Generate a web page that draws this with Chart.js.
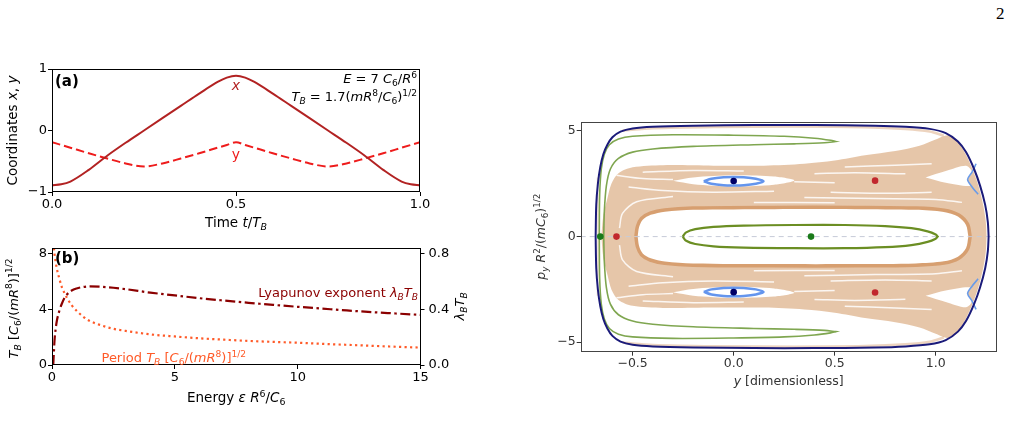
<!DOCTYPE html>
<html>
<head>
<meta charset="utf-8">
<script src="https://cdn.jsdelivr.net/npm/chart.js@4"></script>
<style>
  body { margin: 0; background: #fff; width: 1014px; height: 447px; overflow: hidden; position: relative; }
  canvas { position: absolute; }
  #page { position: absolute; left: 996px; top: 4px; font: 17px "Liberation Serif"; color: #000; }
</style>
</head>
<body>
<div id="page">2</div>
<canvas id="chartA" width="445" height="190" style="left:0;top:50px"></canvas>
<canvas id="chartB" width="480" height="180" style="left:0;top:236px"></canvas>
<canvas id="chartC" width="494" height="294" style="left:520px;top:108px"></canvas>
<script>
'use strict'
var FONT = '"DejaVu Sans"';

/*----- panel (a): coordinates over one period -----*/
var tA = [0, 0.025, 0.05, 0.1, 0.15, 0.2, 0.25, 0.3, 0.35, 0.4, 0.45, 0.475, 0.5,
          0.525, 0.55, 0.6, 0.65, 0.7, 0.75, 0.8, 0.85, 0.9, 0.95, 0.975, 1];
var xA = [-0.89, -0.875, -0.83, -0.64, -0.41, -0.2, 0, 0.2, 0.4, 0.6, 0.79, 0.86, 0.89,
          0.86, 0.79, 0.6, 0.4, 0.2, 0, -0.2, -0.41, -0.64, -0.83, -0.875, -0.89];
var yA = [-0.19, -0.235, -0.28, -0.37, -0.455, -0.535, -0.585, -0.535, -0.455, -0.37, -0.28, -0.235, -0.19,
          -0.235, -0.28, -0.37, -0.455, -0.535, -0.585, -0.535, -0.455, -0.37, -0.28, -0.235, -0.19];

/*----- panel (b): period and Lyapunov exponent vs energy -----*/
var epsT = [0.08, 0.1, 0.15, 0.2, 0.3, 0.4, 0.5, 0.6, 0.8, 1, 1.25, 1.5, 2, 2.5, 3, 4, 5, 6, 7, 8, 9, 10, 11, 12, 13, 14, 15];
var periodT = [8.4, 8.0, 7.4, 6.9, 6.2, 5.6, 5.2, 4.85, 4.3, 3.9, 3.5, 3.2, 2.85, 2.6, 2.45, 2.2, 2.05, 1.92, 1.82, 1.73, 1.66, 1.6, 1.52, 1.45, 1.38, 1.31, 1.25];
var epsL = [0.05, 0.08, 0.1, 0.15, 0.2, 0.3, 0.4, 0.5, 0.6, 0.8, 1, 1.25, 1.5, 2, 2.5, 3, 4, 5, 6, 7, 8, 9, 10, 11, 12, 13, 14, 15];
var lyapL = [0, 0.1, 0.17, 0.26, 0.32, 0.39, 0.44, 0.48, 0.505, 0.535, 0.55, 0.56, 0.565, 0.562, 0.555, 0.545, 0.52, 0.5, 0.48, 0.463, 0.447, 0.432, 0.418, 0.405, 0.392, 0.38, 0.37, 0.36];

/*----- right panel: Poincare section (upper halves, mirrored in p_y) -----*/
var outerTop = [[-0.683, 0], [-0.68, 1.5], [-0.672, 2.5], [-0.66, 3.3], [-0.645, 3.9], [-0.625, 4.35], [-0.6, 4.7],
  [-0.56, 4.97], [-0.5, 5.12], [-0.4, 5.2], [-0.2, 5.25], [0.1, 5.28], [0.4, 5.28], [0.7, 5.25], [0.85, 5.2],
  [0.97, 5.1], [1.05, 4.9], [1.11, 4.5], [1.15, 4.0], [1.19, 3.2], [1.22, 2.4], [1.245, 1.5], [1.258, 0.7], [1.262, 0]];
var greenOuterTop = [[-0.665, 0], [-0.663, 2], [-0.655, 3.2], [-0.64, 3.9], [-0.615, 4.35], [-0.57, 4.62], [-0.5, 4.75],
  [-0.3, 4.82], [0, 4.8], [0.25, 4.75], [0.4, 4.66], [0.48, 4.56], [0.505, 4.5]];
var greenInnerTop = [[0.505, 4.5], [0.45, 4.44], [0.3, 4.39], [0.1, 4.35], [-0.2, 4.27], [-0.4, 4.15], [-0.5, 4.0],
  [-0.57, 3.7], [-0.61, 3.2], [-0.63, 2.4], [-0.64, 1.2], [-0.643, 0]];
var centreTop = [[-0.252, 0], [-0.235, 0.2], [-0.19, 0.35], [-0.1, 0.46], [0.05, 0.52], [0.3, 0.55], [0.55, 0.55],
  [0.75, 0.5], [0.88, 0.4], [0.96, 0.25], [1.0, 0.1], [1.01, 0]];
var blueRing = [[-0.148, 2.62], [-0.11, 2.74], [-0.05, 2.81], [0, 2.82], [0.05, 2.81], [0.11, 2.74], [0.148, 2.62],
  [0.11, 2.5], [0.05, 2.43], [0, 2.42], [-0.05, 2.43], [-0.11, 2.5], [-0.148, 2.62]];
var cuspTop = [[1.2, 3.45], [1.18, 3.05], [1.158, 2.7], [1.18, 2.35], [1.21, 2.0]];
var seaTop = [[-0.655, 0], [-0.645, 1.0], [-0.625, 1.8], [-0.605, 2.5], [-0.57, 3.0], [-0.5, 3.28], [-0.35, 3.38],
  [-0.1, 3.36], [0.15, 3.36], [0.35, 3.45], [0.5, 3.6], [0.65, 3.85], [0.8, 4.05], [0.92, 4.3], [1.0, 4.6],
  [1.06, 4.8], [1.1, 4.6], [1.14, 4.05], [1.18, 3.25], [1.21, 2.45], [1.235, 1.5], [1.248, 0.7], [1.252, 0]];
var seaRimTop = [[-0.55, 5.02], [-0.4, 5.13], [-0.1, 5.19], [0.3, 5.21], [0.65, 5.18], [0.85, 5.1], [0.97, 4.98], [1.04, 4.78]];
var seaRimLeft = [[-0.674, -2.8], [-0.672, -1.5], [-0.671, 0], [-0.672, 1.5], [-0.674, 2.8]];
var holeTop = [[-0.475, 0], [-0.468, 0.45], [-0.45, 0.8], [-0.41, 1.03], [-0.34, 1.18], [-0.2, 1.27], [0.2, 1.3],
  [0.6, 1.3], [0.9, 1.27], [1.04, 1.17], [1.11, 0.95], [1.15, 0.55], [1.162, 0]];
var islandTop = [[-0.3, 2.64], [-0.2, 2.8], [0, 2.9], [0.2, 2.84], [0.3, 2.66], [0.2, 2.46], [0, 2.38], [-0.2, 2.48], [-0.3, 2.64]];
var cuspGapTop = [[0.95, 2.8], [1.05, 3.1], [1.15, 3.35], [1.18, 3.05], [1.158, 2.7], [1.17, 2.4], [1.05, 2.55], [0.95, 2.8]];
var streaksTop = [
  [[-0.45, 3.05], [-0.2, 3.13], [0.05, 3.1]],
  [[-0.52, 2.35], [-0.35, 2.18], [-0.1, 2.1], [0.2, 2.15]],
  [[0.35, 1.85], [0.7, 1.8], [1.0, 1.76], [1.13, 1.62]],
  [[0.4, 2.98], [0.6, 3.02], [0.85, 2.97]],
  [[-0.3, 1.9], [-0.48, 1.65], [-0.55, 1.1], [-0.565, 0.4]],
  [[0.3, 2.6], [0.5, 2.55]],
  [[0.55, 3.3], [0.8, 3.38], [0.98, 3.45]],
  [[0.48, 2.1], [0.75, 2.05], [0.98, 2.1]],
  [[-0.58, 2.9], [-0.45, 2.75], [-0.3, 2.7]],
  [[0.1, 1.62], [0.5, 1.6]]
];
var blueDots = [[0, 2.63], [0, -2.63]];
var redDots = [[-0.58, 0], [0.7, 2.65], [0.7, -2.65]];
var greenDots = [[-0.66, 0], [0.383, 0]];

var X_MIN = -0.757, X_MAX = 1.302, P_MIN = -5.45, P_MAX = 5.44;

/*----- helpers -----*/
function pts(xs, ys) { return xs.map(function(x, i) { return {x: x, y: ys[i]}; }); }
function xy(list) { return list.map(function(p) { return {x: p[0], y: p[1]}; }); }
function flip(list) { return list.map(function(p) { return [p[0], -p[1]]; }); }
function closeSym(top) { return top.concat(flip(top).reverse()); }
function minus(s) { return s.replace('-', '\u2212'); }

function axis(min, max, step, fmt, extra) {
	var a = {
		type: 'linear', min: min, max: max,
		ticks: { stepSize: step, includeBounds: false, autoSkip: false, maxRotation: 0,
			font: { family: FONT, size: 13 }, color: '#000', padding: 1,
			callback: function(v) { return minus(fmt(v)); } },
		grid: { drawOnChartArea: false, drawTicks: true, tickLength: 4, color: '#000' },
		border: { display: false }
	};
	return Object.assign(a, extra);
}

function base(padding, scales) {
	return {
		responsive: false, animation: false, events: [],
		layout: { padding: padding },
		plugins: { legend: { display: false }, tooltip: { enabled: false } },
		elements: { point: { radius: 0 } },
		scales: scales
	};
}

function drawRich(ctx, it, x, y) {
	var size = it.size, w = 0;
	ctx.save();
	ctx.translate(x, y);
	if (it.rot) ctx.rotate(it.rot);
	var segs = it.parts.map(function(p) {
		var s = p[1], small = s.indexOf('_') >= 0 || s.indexOf('^') >= 0;
		var font = (s.indexOf('i') >= 0 ? 'italic ' : '') + (s.indexOf('b') >= 0 ? 'bold ' : '') +
			(small ? size * 0.7 : size) + 'px ' + FONT;
		ctx.font = font;
		var seg = { t: p[0], font: font, dx: w,
			dy: s.indexOf('_') >= 0 ? size * 0.24 : s.indexOf('^') >= 0 ? -size * 0.4 : 0 };
		w += ctx.measureText(p[0]).width;
		return seg;
	});
	var x0 = it.align === 'right' ? -w : it.align === 'center' ? -w / 2 : 0;
	ctx.fillStyle = it.color || '#000';
	ctx.textBaseline = it.baseline || 'alphabetic';
	segs.forEach(function(s) { ctx.font = s.font; ctx.fillText(s.t, x0 + s.dx, s.dy); });
	ctx.restore();
}

function richText(items) {
	return { id: 'richText', afterDraw: function(chart) {
		items.forEach(function(it) {
			var p = it.at(chart.chartArea, chart.scales);
			drawRich(chart.ctx, it, p[0], p[1]);
		});
	} };
}

function frame(color) {
	return { id: 'frame', afterDraw: function(chart) {
		var a = chart.chartArea, ctx = chart.ctx;
		ctx.save();
		ctx.strokeStyle = color;
		ctx.lineWidth = 1;
		ctx.strokeRect(Math.round(a.left) + 0.5, Math.round(a.top) + 0.5,
			Math.round(a.right - a.left) - 1, Math.round(a.bottom - a.top) - 1);
		ctx.restore();
	} };
}

/*----- chart (a) -----*/
var TB = [['T', 'i'], ['B', 'i_']];
var textA = [
	{ parts: [['(a)', 'b']], size: 15, at: function(a) { return [a.left + 3, a.top + 16.5]; } },
	{ parts: [['E', 'i'], [' = 7 ', ''], ['C', 'i'], ['6', '_'], ['/', ''], ['R', 'i'], ['6', '^']], size: 13, align: 'right',
	  at: function(a) { return [a.right - 3, a.top + 14]; } },
	{ parts: TB.concat([[' = 1.7(', ''], ['m', 'i'], ['R', 'i'], ['8', '^'], ['/', ''], ['C', 'i'], ['6', '_'], [')', ''], ['1/2', '^']]),
	  size: 13, align: 'right', at: function(a) { return [a.right - 3, a.top + 32]; } },
	{ parts: [['x', 'i']], size: 14, color: '#b22222', align: 'center', baseline: 'middle',
	  at: function(a, s) { return [s.x.getPixelForValue(0.5), s.y.getPixelForValue(0.72)]; } },
	{ parts: [['y', '']], size: 14, color: '#ee1c1c', align: 'center', baseline: 'middle',
	  at: function(a, s) { return [s.x.getPixelForValue(0.5), s.y.getPixelForValue(-0.4)]; } },
	{ parts: [['Time ', ''], ['t', 'i'], ['/', '']].concat(TB), size: 13.5, align: 'center',
	  at: function(a) { return [(a.left + a.right) / 2, a.bottom + 35]; } },
	{ parts: [['Coordinates ', ''], ['x', 'i'], [', ', ''], ['y', 'i']], size: 13.5, align: 'center', rot: -Math.PI / 2,
	  at: function(a) { return [16.5, (a.top + a.bottom) / 2]; } }
];

new Chart(document.getElementById('chartA'), {
	type: 'line',
	data: { datasets: [
		{ data: pts(tA, xA), borderColor: '#b22222', borderWidth: 2, cubicInterpolationMode: 'monotone' },
		{ data: pts(tA, yA), borderColor: '#ee1c1c', borderWidth: 2, borderDash: [8.5, 4], cubicInterpolationMode: 'monotone' }
	] },
	options: base({ top: 19, right: 25, left: 0, bottom: 0 }, {
		x: axis(0, 1, 0.5, function(v) { return v.toFixed(1); }, { afterFit: function(s) { s.height = 48; } }),
		y: axis(-1, 1, 1, function(v) { return String(Math.round(v)); }, { afterFit: function(s) { s.width = 52; } })
	}),
	plugins: [frame('#000'), richText(textA)]
});

/*----- chart (b) -----*/
var unitT = [[' [', ''], ['C', 'i'], ['6', '_'], ['/(', ''], ['m', 'i'], ['R', 'i'], ['8', '^'], [')]', ''], ['1/2', '^']];
var lamT = [['\u03bb', 'i'], ['B', 'i_']].concat(TB);
var textB = [
	{ parts: [['(b)', 'b']], size: 15, at: function(a) { return [a.left + 3, a.top + 15]; } },
	{ parts: [['Lyapunov exponent ', '']].concat(lamT), size: 13, color: '#8b0000', align: 'right',
	  at: function(a) { return [a.right - 2.5, a.top + 49]; } },
	{ parts: [['Period ', '']].concat(TB, unitT), size: 13, color: '#ff5a28',
	  at: function(a) { return [a.left + 49.5, a.top + 114]; } },
	{ parts: [['Energy ', ''], ['\u03b5', 'i'], [' ', ''], ['R', 'i'], ['6', '^'], ['/', ''], ['C', 'i'], ['6', '_']], size: 13.5, align: 'center',
	  at: function(a) { return [(a.left + a.right) / 2, a.bottom + 37]; } },
	{ parts: TB.concat(unitT), size: 13, align: 'center', rot: -Math.PI / 2,
	  at: function(a) { return [17.5, (a.top + a.bottom) / 2 + 2]; } },
	{ parts: lamT, size: 13, align: 'center', rot: -Math.PI / 2,
	  at: function(a) { return [a.right + 43, (a.top + a.bottom) / 2]; } }
];

var scalesB = {
	x: axis(0, 15, 5, function(v) { return String(Math.round(v)); }, { afterFit: function(s) { s.height = 51; } }),
	y: axis(0, 8.42, 4, function(v) { return String(Math.round(v)); }, { afterFit: function(s) { s.width = 52; } }),
	y2: axis(0, 0.842, 0.4, function(v) { return v.toFixed(1); }, { position: 'right', afterFit: function(s) { s.width = 59.5; } })
};
scalesB.y2.ticks.padding = 4;

new Chart(document.getElementById('chartB'), {
	type: 'line',
	data: { datasets: [
		{ data: pts(epsL, lyapL), yAxisID: 'y2', borderColor: '#8b0000', borderWidth: 2.2, borderDash: [10, 3.5, 2.5, 3.5], cubicInterpolationMode: 'monotone' },
		{ data: pts(epsT, periodT), yAxisID: 'y', borderColor: '#ff5a28', borderWidth: 2.2, borderDash: [2.2, 3.3], cubicInterpolationMode: 'monotone' }
	] },
	options: base({ top: 7, right: 0, left: 0, bottom: 0 }, scalesB),
	plugins: [frame('#000'), richText(textB)]
});

/*----- chart (c): Poincare section -----*/
var SEA = 'rgba(214,160,112,0.6)';
function curve(list, color, width, extra) {
	return Object.assign({ data: xy(list), borderColor: color, borderWidth: width, fill: false, pointRadius: 0, tension: 0.3 }, extra);
}
function area(list, color) {
	return { data: xy(list), borderWidth: 0, borderColor: 'rgba(0,0,0,0)', backgroundColor: color, fill: 'shape', pointRadius: 0, tension: 0.3 };
}
function dots(list, color) {
	return { data: xy(list), showLine: false, pointRadius: 3.3, pointBackgroundColor: color, pointBorderWidth: 0 };
}

// listed bottom to top
var layers = [
	area(closeSym(seaTop), SEA),
	curve(seaRimTop, 'rgba(214,160,112,0.45)', 2.5),
	curve(flip(seaRimTop), 'rgba(214,160,112,0.45)', 2.5),
	curve(seaRimLeft, 'rgba(214,160,112,0.35)', 1.5),
	curve(closeSym(holeTop), 'rgba(200,120,55,0.5)', 7),
	area(closeSym(holeTop), '#fff'),
	area(islandTop, '#fff'),
	area(flip(islandTop), '#fff'),
	area(cuspGapTop, '#fff'),
	area(flip(cuspGapTop), '#fff')
];
streaksTop.forEach(function(s) {
	layers.push(curve(s, 'rgba(255,255,255,0.85)', 1.5));
	layers.push(curve(flip(s), 'rgba(255,255,255,0.85)', 1.5));
});
layers = layers.concat([
	curve([[X_MIN, 0], [X_MAX, 0]], '#c6cad8', 1, { borderDash: [5, 4], tension: 0 }),
	curve(greenOuterTop.concat(greenInnerTop, flip(greenInnerTop).reverse(), flip(greenOuterTop).reverse()), '#7fa650', 1.6),
	curve(closeSym(centreTop), '#6b8e23', 2.2),
	curve(blueRing, '#6495ed', 2.5),
	curve(flip(blueRing), '#6495ed', 2.5),
	curve(cuspTop, '#6a9be8', 1.6),
	curve(flip(cuspTop), '#6a9be8', 1.6),
	curve(closeSym(outerTop), '#1b1b7a', 2),
	dots(blueDots, '#000066'),
	dots(redDots, '#c1272d'),
	dots(greenDots, '#1a7a1a')
]);
layers.forEach(function(d, i) { d.order = layers.length - i; });

var textC = [
	{ parts: [['y', 'i'], [' [dimensionless]', '']], size: 12.5, color: '#333', align: 'center',
	  at: function(a) { return [(a.left + a.right) / 2, a.bottom + 33.5]; } },
	{ parts: [['p', 'i'], ['y', 'i_'], [' ', ''], ['R', 'i'], ['2', '^'], ['/(', ''], ['m', 'i'], ['C', 'i'], ['6', '_'], [')', ''], ['1/2', '^']],
	  size: 12.5, color: '#333', align: 'center', rot: -Math.PI / 2,
	  at: function(a) { return [a.left - 36, (a.top + a.bottom) / 2]; } }
];

var scalesC = {
	x: axis(X_MIN, X_MAX, 0.5, function(v) { return v.toFixed(1); }, { afterFit: function(s) { s.height = 50.3; } }),
	y: axis(P_MIN, P_MAX, 5, function(v) { return String(Math.round(v)); }, { afterFit: function(s) { s.width = 60.7; } })
};
['x', 'y'].forEach(function(k) {
	scalesC[k].ticks.font.size = 12.5;
	scalesC[k].ticks.color = '#333';
	scalesC[k].grid.color = '#333';
});
var optsC = base({ top: 13.7, right: 17.3, left: 0, bottom: 0 }, scalesC);
optsC.indexAxis = 'y';

new Chart(document.getElementById('chartC'), {
	type: 'line',
	data: { datasets: layers },
	options: optsC,
	plugins: [frame('#444'), richText(textC)]
});
</script>
</body>
</html>
